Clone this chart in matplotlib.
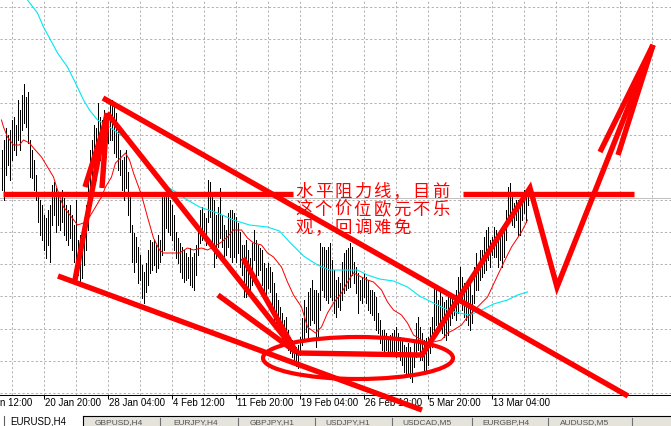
import matplotlib
matplotlib.use("Agg")
import matplotlib.pyplot as plt
import matplotlib.transforms as mtransforms
from matplotlib.patches import Ellipse, Rectangle
import numpy as np

# ---------------- data (price levels, arbitrary units) ----------------
highs = [250, 260, 272, 265, 270, 280, 283, 275, 300, 290,
         305, 316, 303, 308, 260, 250, 240, 225, 207, 200,
         195, 185, 182, 190, 195, 215, 218, 212, 205, 200,
         210, 202, 195, 190, 195, 185, 175, 200, 160, 165,
         160, 175, 195, 220, 250, 260, 275, 272, 297, 283,
         280, 290, 280, 287, 295, 300, 293, 287, 273, 250,
         240, 243, 250, 228, 207, 175, 167, 163, 153, 145,
         135, 128, 137, 150, 160, 158, 160, 155, 165, 160,
         205, 207, 210, 208, 200, 195, 185, 168, 162, 157,
         153, 150, 147, 143, 152, 143, 147, 155, 175, 190,
         193, 187, 182, 220, 218, 203, 200, 185, 193, 212,
         185, 175, 170, 187, 190, 190, 187, 183, 177, 168,
         155, 155, 160, 150, 142, 157, 170, 160, 155, 152,
         150, 137, 132, 137, 133, 128, 117, 107, 100, 93,
         87, 80, 83, 70, 63, 60, 55, 53, 55, 63,
         82, 100, 93, 108, 112, 120, 110, 110, 107, 157,
         153, 153, 150, 153, 157, 140, 130, 120, 123, 117,
         138, 147, 150, 152, 157, 153, 138, 133, 127, 120,
         123, 127, 123, 120, 110, 110, 108, 103, 87, 80,
         70, 70, 67, 63, 65, 67, 70, 73, 67, 63,
         60, 55, 53, 57, 53, 47, 60, 77, 83, 73,
         67, 60, 62, 63, 73, 83, 113, 110, 100, 110,
         103, 98, 100, 105, 103, 103, 103, 110, 123, 133,
         123, 117, 110, 115, 120, 105, 133, 147, 132, 150,
         150, 163, 170, 173, 160, 163, 173, 170, 167, 170,
         165, 177, 190, 213, 217, 203, 197, 200, 200, 193,
         203, 210, 203, 207]
lows = [210, 200, 225, 235, 220, 240, 250, 245, 260, 250,
        270, 277, 273, 257, 223, 222, 210, 200, 178, 165,
        160, 150, 142, 155, 138, 175, 185, 168, 175, 170,
        178, 165, 160, 155, 162, 150, 138, 130, 125, 118,
        122, 135, 150, 170, 200, 210, 215, 220, 250, 240,
        243, 255, 243, 257, 260, 260, 247, 243, 230, 225,
        210, 200, 212, 185, 168, 138, 128, 138, 117, 120,
        102, 97, 108, 115, 127, 130, 135, 128, 132, 138,
        145, 150, 172, 168, 165, 160, 150, 142, 137, 128,
        122, 118, 120, 122, 115, 113, 110, 125, 145, 157,
        160, 163, 155, 178, 183, 157, 133, 142, 153, 162,
        153, 142, 145, 153, 143, 138, 143, 138, 147, 133,
        125, 103, 103, 108, 110, 115, 140, 115, 125, 130,
        115, 100, 105, 112, 108, 90, 75, 77, 72, 70,
        57, 60, 53, 50, 47, 43, 37, 34, 32, 45,
        55, 62, 68, 60, 75, 80, 77, 53, 60, 90,
        110, 103, 100, 97, 103, 100, 87, 83, 93, 90,
        100, 107, 110, 112, 113, 125, 117, 107, 87, 100,
        97, 103, 97, 90, 87, 85, 80, 70, 67, 57,
        50, 45, 50, 47, 45, 44, 47, 43, 50, 40,
        35, 28, 27, 25, 22, 18, 33, 43, 50, 40,
        40, 28, 30, 35, 47, 53, 67, 75, 73, 70,
        67, 63, 60, 65, 75, 82, 85, 80, 87, 97,
        90, 83, 80, 75, 70, 77, 97, 110, 110, 120,
        123, 127, 130, 140, 133, 145, 143, 143, 133, 140,
        133, 143, 160, 177, 183, 175, 173, 180, 165, 165,
        180, 187, 178, 195]

fast_ma_idx = [0, 1, 3, 6, 9, 11, 14, 16, 20, 23, 26, 28, 31, 35, 38, 41, 44, 47, 50, 52,
               55, 57, 60, 62, 64, 66, 70, 73, 76, 79, 81, 85, 89, 93, 96, 100, 103, 106, 110, 113,
               116, 120, 123, 126, 130, 133, 136, 140, 143, 146, 150, 153, 157, 160, 163, 166, 170, 173, 176, 180,
               183, 186, 190, 193, 196, 200, 203, 206, 210, 213, 216, 220, 223, 226, 230, 233, 238, 243, 247, 251,
               255, 260, 263]
fast_ma_val = [280, 273, 263, 255, 255, 260, 257, 252, 243, 233, 223, 210, 193, 183, 175, 177, 183, 193, 203, 213,
               223, 237, 243, 247, 240, 227, 205, 183, 162, 150, 147, 147, 147, 152, 150, 152, 150, 153, 158, 163,
               170, 170, 162, 157, 155, 147, 143, 133, 118, 105, 93, 73, 67, 73, 87, 97, 107, 118, 127, 123,
               120, 118, 110, 98, 90, 85, 77, 65, 60, 57, 58, 60, 67, 70, 75, 83, 93, 103, 120, 137,
               153, 168, 180]

slow_ma_idx = [4, 13, 18, 21, 24, 28, 33, 37, 41, 44, 48, 54, 61, 68, 73, 78, 83, 88, 93, 99,
               108, 116, 124, 133, 139, 144, 151, 158, 164, 171, 178, 183, 189, 196, 203, 209, 216, 223, 229, 234,
               239, 246, 253, 258, 263]
slow_ma_val = [430, 400, 387, 373, 362, 347, 333, 317, 300, 290, 280, 273, 263, 250, 237, 223, 213, 207, 200, 193,
               187, 180, 175, 173, 169, 158, 144, 135, 130, 130, 130, 125, 121, 119, 113, 104, 97, 90, 87, 85,
               89, 96, 100, 105, 108]

bid_level = 202

# first label is only partly visible at the left edge in the reference
time_labels = ["n 12:00", "20 Jan 20:00", "28 Jan 04:00", "4 Feb 12:00", "11 Feb 20:00",
               "19 Feb 04:00", "26 Feb 12:00", "5 Mar 20:00", "13 Mar 04:00"]
first_label_bar = -10.75
bars_per_label = 32

tab_names = ["EURUSD,H4", "GBPUSD,H4", "EURJPY,H4", "GBPJPY,H1", "USDJPY,H1",
             "USDCAD,M5", "EURGBP,H4", "AUDUSD,M5"]

note_lines = ["水平阻力线，目前", "这个价位欧元不乐", "观，回调难免"]

# hand-drawn annotation strokes (bar index, level)
stroke_paths = [
    [(0.75, 206), (145.75, 206)],
    [(230.75, 206), (316.25, 206)],
    [(50.75, 302), (313.25, 4)],
    [(28.25, 124), (210.25, -10)],
    [(36.75, 120), (52.75, 287)],
    [(41.75, 213), (52.75, 283)],
    [(50.25, 212), (52.75, 283)],
    [(52.75, 287), (147.75, 47)],
    [(120.75, 142), (147.25, 48)],
    [(108.25, 105), (147.25, 48)],
    [(147.75, 47), (210.25, 45), (264.25, 212), (277.75, 113), (325.75, 355)],
    [(299.25, 248), (325.75, 355)],
    [(308.25, 245), (325.75, 355)],
]
ellipse_center = (178.25, 42)
ellipse_size = (95, 42)

# ---------------- figure ----------------
W, H = 671, 426
RED = "#ff0000"
fig = plt.figure(figsize=(W / 100, H / 100), dpi=100)
fig.patch.set_facecolor("white")

ax = fig.add_axes([0, 31 / H, 1, 395 / H])
ax.set_xlim(-0.75, 334.75)
ax.set_ylim(5, 400)
ax.set_facecolor("white")
for s in ["top", "left", "right"]:
    ax.spines[s].set_visible(False)
ax.spines["bottom"].set_color("black")
ax.spines["bottom"].set_linewidth(0.75)
ax.set_yticks([])

# grid
dash = (0, (2.2, 2.2))
for gx in np.arange(5.25, 335, 16):
    ax.axvline(gx, color="#b4b4b4", lw=0.72, ls=dash, zorder=0.5)
for gy in np.arange(393.3, 0, -32.2):
    ax.axhline(gy, color="#b8b0b0", lw=0.72, ls=dash, zorder=0.5)
ax.axhline(bid_level, color="#c0c0c0", lw=0.72, zorder=0.6)

# price bars
idx = np.arange(len(highs))
ax.vlines(idx, lows, highs, colors="black", lw=0.72, antialiased=False, zorder=2)

# moving averages
ax.plot(slow_ma_idx, slow_ma_val, color="#00e8f0", lw=0.8, zorder=3)
ax.plot(fast_ma_idx, fast_ma_val, color=RED, lw=0.72, zorder=3)

# note text (per character, wide spacing)
base_idx = 146.75
pitch = 9.8
baselines = [203, 185, 167]
for line, base in zip(note_lines, baselines):
    for k, ch in enumerate(line):
        ax.text(base_idx + k * pitch, base, ch, color=RED, fontsize=12.5,
                family=["Noto Sans CJK SC", "DejaVu Sans"], fontweight="light",
                ha="left", va="baseline", zorder=5, clip_on=False)

# annotation strokes
for path in stroke_paths:
    xs, ys = zip(*path)
    ax.plot(xs, ys, color=RED, lw=3.9, solid_capstyle="butt",
            solid_joinstyle="miter", zorder=6, clip_on=False)
ax.add_patch(Ellipse(ellipse_center, ellipse_size[0], ellipse_size[1], fill=False,
                     edgecolor=RED, lw=3.0, zorder=6, clip_on=False))

# time axis
tick_pos = [first_label_bar + bars_per_label * k for k in range(len(time_labels))]
ax.set_xticks(tick_pos[1:])
ax.tick_params(axis="x", direction="out", length=3, width=0.72, colors="black",
               labelbottom=False)
trans = mtransforms.blended_transform_factory(ax.transData, fig.transFigure)
for k, (p, lab) in enumerate(zip(tick_pos, time_labels)):
    xpos = -0.6 if k == 0 else p + 0.6
    ax.text(xpos, 1 - 403.5 / H, lab, transform=trans, fontsize=7,
            family=["Liberation Sans", "DejaVu Sans"], color="black",
            ha="left", va="center", clip_on=False)

# tab bar
tb = fig.add_axes([0, 0, 1, 31 / H])
tb.set_xlim(0, W)
tb.set_ylim(426, 395)
tb.axis("off")
tb.add_patch(Rectangle((82.5, 415.5), W - 82.5, 11, facecolor="#e6e3dc", edgecolor="none"))
tb.plot([82.5, W], [415.5, 415.5], color="black", lw=0.8)
tb.plot([3.5, 3.5], [416, 426], color="#606060", lw=0.8)
tb.plot([82.5, 82.5], [415.5, 426], color="black", lw=0.8)
tab_x = [10, 95, 173, 250, 325, 402, 482, 560]
sep_x = [160, 238, 315, 392, 472, 548, 632]
for sx in sep_x:
    tb.plot([sx, sx], [418, 426], color="#707070", lw=0.8)
for k, (tx, name) in enumerate(zip(tab_x, tab_names)):
    tb.text(tx, 424, name, fontsize=7.0 if k == 0 else 6.0,
            family=["Liberation Sans", "DejaVu Sans"],
            color="black" if k == 0 else "#555555", ha="left", va="baseline", clip_on=False)

fig.savefig("out.png", dpi=100, facecolor="white")
